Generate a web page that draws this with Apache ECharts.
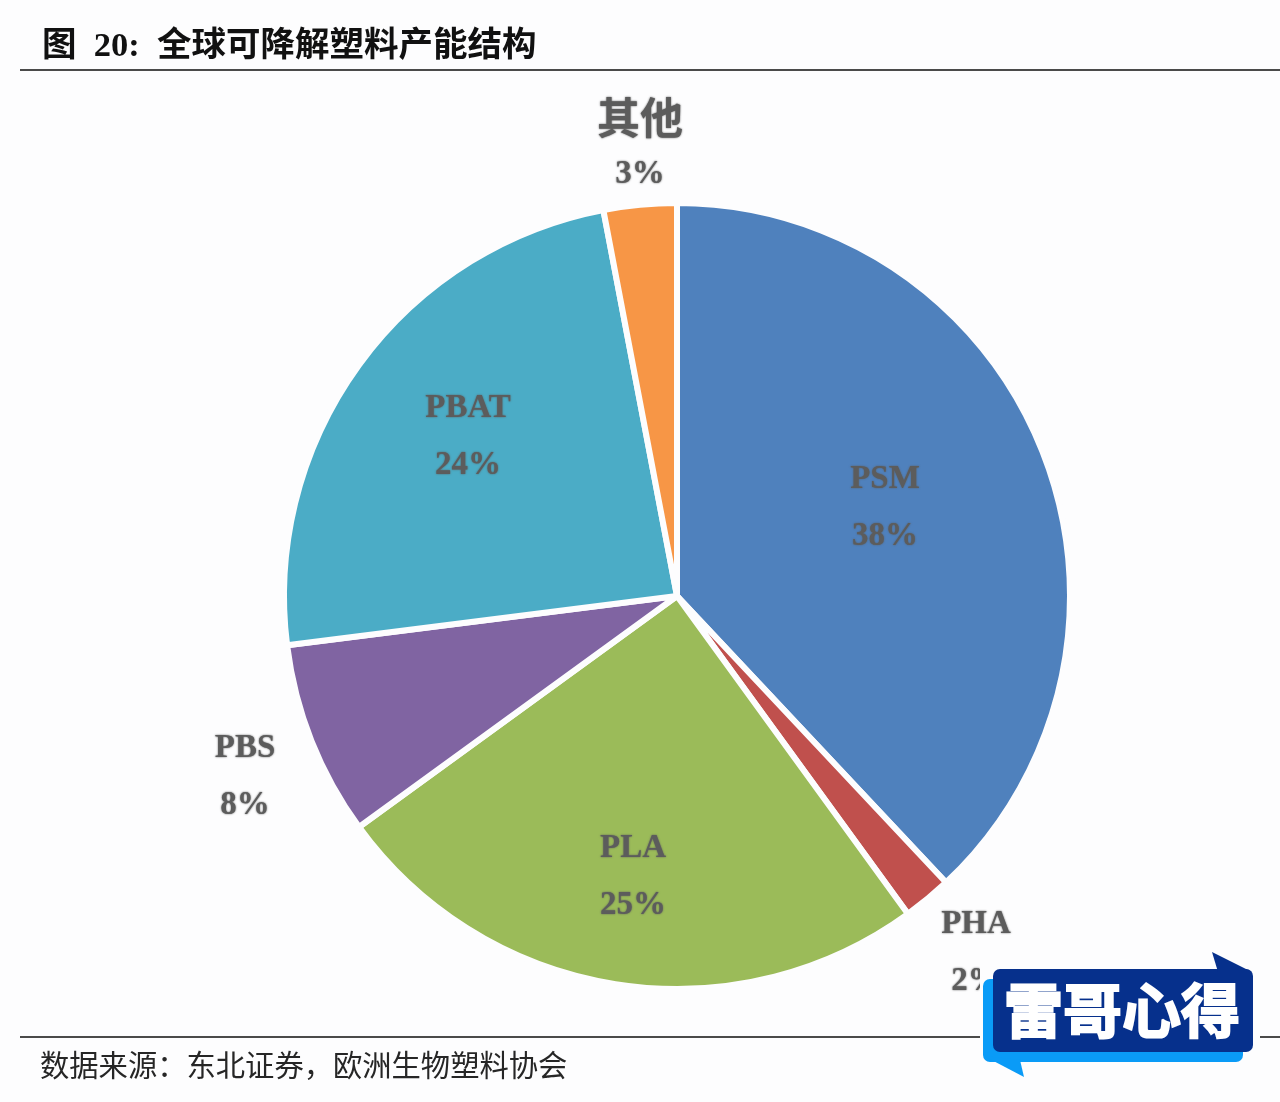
<!DOCTYPE html>
<html>
<head>
<meta charset="utf-8">
<title>全球可降解塑料产能结构</title>
<style>
  html, body { margin: 0; padding: 0; background: #fdfdfe; }
  #main { width: 1280px; height: 1102px; }
</style>
<script src="https://cdn.jsdelivr.net/npm/echarts@6/dist/echarts.min.js"></script>
</head>
<body>
<div id="main"></div>
<script>
// Data
var names = ['PSM', 'PHA', 'PLA', 'PBS', 'PBAT', '其他']
var shares = [38, 2, 25, 8, 24, 3]
var colors = ['#4f81bd', '#c0504d', '#9bbb59', '#8064a2', '#4bacc6', '#f79646']

var titleText = '图  20:  全球可降解塑料产能结构'
var sourceText = '数据来源：东北证券，欧洲生物塑料协会'
var logoText = '雷哥心得'

// Where each label is centred, same order as names
var labelSpots = [[885, 508], [976, 953], [633, 877], [245, 777], [468, 437], [640, 146]]

var serif = '"Liberation Serif", "Noto Sans CJK SC", serif'
var cjk = '"Liberation Serif", "Noto Sans CJK SC", sans-serif'
var labelGrey = '#5c5c5c'

var chart = echarts.init(document.getElementById('main'), null, { renderer: 'canvas' })

var pieData = names.map(function (name, i) {
  return { name: name, value: shares[i], itemStyle: { color: colors[i] } }
})

// the labels in the picture are soft, a small shadow gets close to that
function labelStyle(family, size) {
  return {
    fontFamily: family, fontSize: size, fontWeight: 'bold', color: labelGrey,
    lineHeight: 57, align: 'center', textShadowColor: labelGrey, textShadowBlur: 2
  }
}

chart.setOption({
  animation: false,
  backgroundColor: '#fdfdfe',
  title: [{
    text: titleText,
    left: 37,
    top: 25,
    textStyle: { fontFamily: cjk, fontSize: 34.5, fontWeight: 'bold', color: '#111111' }
  }, {
    text: sourceText,
    left: 35,
    top: 1049,
    textStyle: { fontFamily: cjk, fontSize: 29.3, fontWeight: 'normal', color: '#262626' }
  }],
  series: [{
    type: 'pie',
    center: [677, 596],
    radius: [0, 393],
    startAngle: 90,
    clockwise: true,
    silent: true,
    data: pieData,
    itemStyle: { borderColor: '#fdfdfe', borderWidth: 6 },
    label: {
      show: true,
      position: 'inside',
      formatter: function (p) {
        var nameStyle = p.name === '其他' ? 'big' : 'n'
        return '{' + nameStyle + '|' + p.name + '}\n{p|' + p.value + '%}'
      },
      rich: {
        n: labelStyle(serif, 33),
        big: labelStyle('"Noto Sans CJK SC", sans-serif', 43),
        p: labelStyle(serif, 33)
      }
    },
    labelLine: { show: false },
    labelLayout: function (p) {
      var spot = labelSpots[p.dataIndex]
      return { x: spot[0], y: spot[1], align: 'center', verticalAlign: 'middle' }
    }
  }],
  graphic: [
    { type: 'rect', z: 10, shape: { x: 20, y: 69, width: 1260, height: 2 }, style: { fill: '#4a4a4a' } },
    { type: 'rect', z: 10, shape: { x: 20, y: 1036, width: 1260, height: 2 }, style: { fill: '#4a4a4a' } },
    // the logo stamped over the corner, with its pale patch hiding the rule and the 2% label
    { type: 'rect', z: 20, shape: { x: 980, y: 966, width: 280, height: 112 }, style: { fill: '#fdfdfe' } },
    { type: 'rect', z: 21, shape: { x: 983, y: 979, width: 260, height: 83, r: 7 }, style: { fill: '#0a9bf7' } },
    { type: 'polygon', z: 21, shape: { points: [[984, 1056], [1024, 1077], [1020, 1060]] }, style: { fill: '#0a9bf7' } },
    { type: 'rect', z: 22, shape: { x: 993, y: 969, width: 260, height: 83, r: 7 }, style: { fill: '#06308c' } },
    { type: 'polygon', z: 22, shape: { points: [[1212, 952], [1218, 972], [1252, 972]] }, style: { fill: '#06308c' } },
    {
      type: 'text', z: 23, x: 1122, y: 1011,
      style: {
        text: logoText, fill: '#ffffff', stroke: '#ffffff', lineWidth: 2, align: 'center', verticalAlign: 'middle',
        font: 'bold 59px "Noto Sans CJK SC", sans-serif'
      }
    }
  ]
})
</script>
</body>
</html>
